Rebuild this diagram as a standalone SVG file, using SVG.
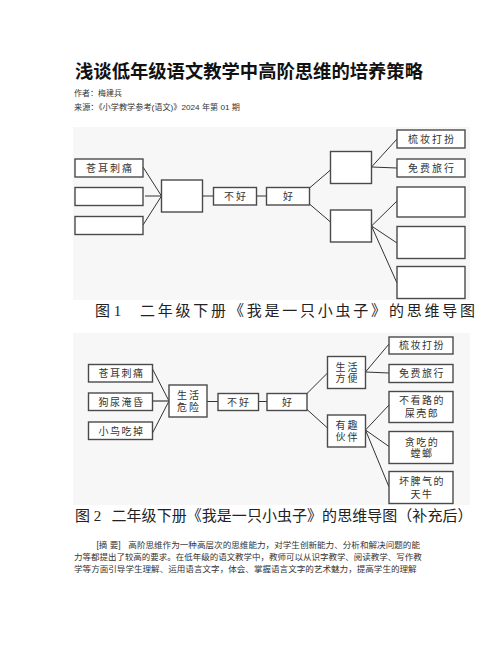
<svg xmlns="http://www.w3.org/2000/svg" width="502" height="649" viewBox="0 0 502 649">
<style>
.bg{fill:#f7f7f7}
.box{fill:#fff;stroke:#4a4a4a;stroke-width:1.4}
.ln{stroke:#333;stroke-width:1;fill:none}
.nt{font-family:"Liberation Serif","Noto Sans CJK SC",serif;font-size:10px;fill:#333;text-anchor:middle;dominant-baseline:central;letter-spacing:2px}
.title{font-family:"Liberation Sans","Noto Sans CJK SC",sans-serif;font-size:18.3px;font-weight:bold;fill:#111}
.meta{font-family:"Liberation Sans","Noto Sans CJK SC",sans-serif;font-size:8px;fill:#333}
.cap{font-family:"Liberation Serif","Noto Sans CJK SC",serif;font-size:15px;fill:#222}
.para{font-family:"Liberation Sans","Noto Sans CJK SC",sans-serif;font-size:8.5px;fill:#333}
</style>
<rect width="502" height="649" fill="#fff"/>
<g id="header">
<text class="title" x="75" y="78" textLength="348" lengthAdjust="spacingAndGlyphs">浅谈低年级语文教学中高阶思维的培养策略</text>
<text class="meta" x="74" y="96">作者：梅建兵</text>
<text class="meta" x="74" y="109.5" textLength="166" lengthAdjust="spacingAndGlyphs">来源：《小学教学参考(语文)》2024 年第 01 期</text>
</g>
<rect class="bg" x="73" y="127" width="397" height="173"/>
<rect class="bg" x="73" y="333" width="397" height="172"/>
<g id="connectors">
<line class="ln" x1="143" y1="167" x2="161.5" y2="196"/>
<line class="ln" x1="145" y1="196" x2="161.5" y2="196"/>
<line class="ln" x1="143" y1="225" x2="161.5" y2="196"/>
<line class="ln" x1="202.5" y1="196" x2="213.5" y2="196"/>
<line class="ln" x1="256.5" y1="196" x2="266.5" y2="196"/>
<line class="ln" x1="309.5" y1="188" x2="330.5" y2="170"/>
<line class="ln" x1="309.5" y1="204" x2="330.5" y2="222"/>
<line class="ln" x1="371.5" y1="167" x2="397" y2="139"/>
<line class="ln" x1="371.5" y1="167" x2="397" y2="168"/>
<line class="ln" x1="371.5" y1="226" x2="397" y2="201"/>
<line class="ln" x1="371.5" y1="226" x2="397" y2="243"/>
<line class="ln" x1="371.5" y1="226" x2="397" y2="283"/>
<line class="ln" x1="152.5" y1="369" x2="169" y2="401"/>
<line class="ln" x1="153" y1="401" x2="169" y2="401" style="stroke:#666;stroke-width:1.6"/>
<line class="ln" x1="152.5" y1="433" x2="169" y2="401"/>
<line class="ln" x1="207" y1="401.5" x2="218" y2="401.5"/>
<line class="ln" x1="258.5" y1="401.5" x2="267" y2="401.5"/>
<line class="ln" x1="306.5" y1="394" x2="327.5" y2="373"/>
<line class="ln" x1="306.5" y1="409" x2="327.5" y2="428"/>
<line class="ln" x1="365.5" y1="372" x2="389" y2="344"/>
<line class="ln" x1="365.5" y1="372" x2="389" y2="373"/>
<line class="ln" x1="365.5" y1="430" x2="389" y2="405"/>
<line class="ln" x1="365.5" y1="430" x2="389" y2="446.5"/>
<line class="ln" x1="365.5" y1="430" x2="389" y2="487"/>
</g>
<g id="f1-cangerr"><rect class="box" x="75" y="159" width="68" height="18"/><text class="nt" x="110" y="168">苍耳刺痛</text></g>
<g id="f1-left2"><rect class="box" x="75" y="187.5" width="68" height="18"/></g>
<g id="f1-left3"><rect class="box" x="75" y="216.5" width="68" height="18"/></g>
<g id="f1-center"><rect class="box" x="161.5" y="180" width="41" height="32"/></g>
<g id="f1-bad"><rect class="box" x="213.5" y="187.5" width="43" height="17.5"/><text class="nt" x="236" y="196">不好</text></g>
<g id="f1-good"><rect class="box" x="266.5" y="187.5" width="43" height="17.5"/><text class="nt" x="289" y="196">好</text></g>
<g id="f1-up"><rect class="box" x="330.5" y="151.5" width="41" height="32"/></g>
<g id="f1-down"><rect class="box" x="330.5" y="210" width="41" height="32"/></g>
<g id="f1-r1"><rect class="box" x="397" y="130" width="68" height="18"/><text class="nt" x="432" y="139">梳妆打扮</text></g>
<g id="f1-r2"><rect class="box" x="397" y="159" width="68" height="18"/><text class="nt" x="432" y="168">免费旅行</text></g>
<g id="f1-r3"><rect class="box" x="397" y="187" width="68" height="30"/></g>
<g id="f1-r4"><rect class="box" x="397" y="226.5" width="68" height="32"/></g>
<g id="f1-r5"><rect class="box" x="397" y="266.5" width="68" height="32"/></g>
<g id="caption1">
<text class="cap" x="95" y="316">图 1</text>
<text class="cap" x="140" y="316" textLength="335" lengthAdjust="spacing">二年级下册《我是一只小虫子》的思维导图</text>
</g>
<g id="f2-cangerr"><rect class="box" x="88.5" y="364.5" width="64" height="17.5"/><text class="nt" x="121.5" y="373" style="letter-spacing:1.5px">苍耳刺痛</text></g>
<g id="f2-gouniao"><rect class="box" x="88.5" y="393" width="64" height="17.5"/><text class="nt" x="121.5" y="402" style="letter-spacing:1.5px">狗尿淹昏</text></g>
<g id="f2-xiaoniao"><rect class="box" x="88.5" y="422" width="64" height="17.5"/><text class="nt" x="121.5" y="431" style="letter-spacing:1.5px">小鸟吃掉</text></g>
<g id="f2-center"><rect class="box" x="169" y="385" width="38" height="32"/><text class="nt" x="189" y="395.5">生活</text><text class="nt" x="189" y="407.5">危险</text></g>
<g id="f2-bad"><rect class="box" x="218" y="393.5" width="40.5" height="17"/><text class="nt" x="239" y="402">不好</text></g>
<g id="f2-good"><rect class="box" x="267" y="393.5" width="40" height="17"/><text class="nt" x="288" y="402">好</text></g>
<g id="f2-up"><rect class="box" x="327.5" y="356.5" width="38" height="32"/><text class="nt" x="347.5" y="367">生活</text><text class="nt" x="347.5" y="378.5">方便</text></g>
<g id="f2-down"><rect class="box" x="327.5" y="415" width="38" height="32"/><text class="nt" x="347.5" y="425">有趣</text><text class="nt" x="347.5" y="437">伙伴</text></g>
<g id="f2-r1"><rect class="box" x="389" y="337" width="64" height="17"/><text class="nt" x="422" y="345.5" style="letter-spacing:1.5px">梳妆打扮</text></g>
<g id="f2-r2"><rect class="box" x="389" y="364.5" width="64" height="18"/><text class="nt" x="422" y="373.5" style="letter-spacing:1.5px">免费旅行</text></g>
<g id="f2-r3"><rect class="box" x="389" y="391.5" width="64" height="31"/><text class="nt" x="422" y="400.5" style="letter-spacing:1.5px">不看路的</text><text class="nt" x="422" y="413" style="letter-spacing:1.5px">屎壳郎</text></g>
<g id="f2-r4"><rect class="box" x="389" y="431.5" width="64" height="32"/><text class="nt" x="422" y="442" style="letter-spacing:1.5px">贪吃的</text><text class="nt" x="422" y="453.5" style="letter-spacing:1.5px">螳螂</text></g>
<g id="f2-r5"><rect class="box" x="389" y="471.5" width="64" height="32"/><text class="nt" x="422" y="481.5" style="letter-spacing:1.5px">坏脾气的</text><text class="nt" x="422" y="494" style="letter-spacing:1.5px">天牛</text></g>
<g id="caption2">
<text class="cap" x="75" y="521">图 2</text>
<text class="cap" x="111.5" y="521" textLength="361" lengthAdjust="spacing">二年级下册《我是一只小虫子》的思维导图（补充后）</text>
</g>
<g id="abstract">
<text class="para" x="96.5" y="548">[摘 要]</text>
<text class="para" x="128.3" y="548" textLength="291.7" lengthAdjust="spacingAndGlyphs">高阶思维作为一种高层次的思维能力，对学生创新能力、分析和解决问题的能</text>
<text class="para" x="74" y="560" textLength="347.7" lengthAdjust="spacingAndGlyphs">力等都提出了较高的要求。在低年级的语文教学中，教师可以从识字教学、阅读教学、写作教</text>
<text class="para" x="74" y="571.5" textLength="342.7" lengthAdjust="spacingAndGlyphs">学等方面引导学生理解、运用语言文字，体会、掌握语言文字的艺术魅力，提高学生的理解</text>
</g>
</svg>
